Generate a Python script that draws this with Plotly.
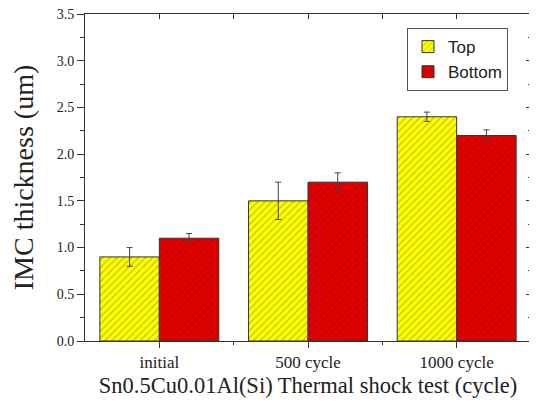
import plotly.graph_objects as go

categories = ["initial", "500 cycle", "1000 cycle"]
top_vals = [0.9, 1.5, 2.4]
top_err = [0.1, 0.2, 0.05]
bottom_vals = [1.1, 1.7, 2.2]
bottom_err = [0.05, 0.1, 0.06]
y_ticks = [0.0, 0.5, 1.0, 1.5, 2.0, 2.5, 3.0, 3.5]

xpos = list(range(len(categories)))

fig = go.Figure()
fig.add_trace(go.Bar(
    x=xpos, y=top_vals, name="Top",
    marker=dict(color="#FFFF00", line=dict(color="#333333", width=1),
                pattern=dict(shape="/", fgcolor="#7a7a00", bgcolor="#FFFF00", size=5, solidity=0.22)),
    error_y=dict(type="data", array=top_err, color="#444444", thickness=1, width=3),
))
fig.add_trace(go.Bar(
    x=xpos, y=bottom_vals, name="Bottom",
    marker=dict(color="#E00000", line=dict(color="#333333", width=1),
                pattern=dict(shape="/", fgcolor="#A80000", bgcolor="#E00000", size=5, solidity=0.22)),
    error_y=dict(type="data", array=bottom_err, color="#444444", thickness=1, width=3),
))
# empty trace to activate the mirrored (top/right) axes with inward ticks
fig.add_trace(go.Scatter(x=[], y=[], xaxis="x2", yaxis="y2", showlegend=False, hoverinfo="skip"))

fig.update_layout(
    width=529, height=397,
    margin=dict(l=77, r=6, t=6, b=64),
    paper_bgcolor="white", plot_bgcolor="white",
    barmode="group", bargap=0.2, bargroupgap=0,
    font=dict(family="Liberation Serif", color="#222222"),
    legend=dict(x=0.722, y=0.957, xanchor="left", yanchor="top",
                bgcolor="white", bordercolor="#555555", borderwidth=1,
                font=dict(family="Liberation Sans", size=17, color="#222222"),
                tracegroupgap=0),
    showlegend=True,
    xaxis=dict(
        range=[-0.5, 2.5], tickvals=xpos, ticktext=categories,
        showline=True, linecolor="#333333", linewidth=1, mirror=True,
        ticks="outside", ticklen=6, tickcolor="#333333",
        minor=dict(tickvals=[0.5, 1.5], ticks="outside", ticklen=3, tickcolor="#333333"),
        tickfont=dict(family="Liberation Serif", size=17),
        ticklabeloverflow="allow",
        title=dict(text="Sn0.5Cu0.01Al(Si) Thermal shock test (cycle)",
                   font=dict(family="Liberation Serif", size=22.5), standoff=5),
        showgrid=False, zeroline=False, automargin=False,
    ),
    yaxis=dict(
        range=[0, 3.5], tickvals=y_ticks, ticktext=[f"{v:.1f}" for v in y_ticks],
        showline=True, linecolor="#333333", linewidth=1, mirror=True,
        ticks="outside", ticklen=7, tickcolor="#333333",
        minor=dict(ticks="outside", ticklen=4, tickcolor="#333333", dtick=0.25),
        tickfont=dict(family="Liberation Serif", size=14),
        ticklabeloverflow="allow",
        title=dict(text="IMC thickness (um)", font=dict(family="Liberation Serif", size=28), standoff=18),
        showgrid=False, zeroline=False, automargin=False,
    ),
    xaxis2=dict(
        overlaying="x", side="top", anchor="y", range=[-0.5, 2.5],
        tickvals=[0, 0.5, 1, 1.5, 2], showticklabels=False,
        ticks="inside", ticklen=5, tickcolor="#333333",
        showline=False, showgrid=False, zeroline=False, automargin=False,
    ),
    yaxis2=dict(
        overlaying="y", side="right", anchor="x", range=[0, 3.5],
        tickvals=y_ticks, showticklabels=False,
        ticks="inside", ticklen=5, tickcolor="#333333",
        minor=dict(ticks="inside", ticklen=3, tickcolor="#333333", dtick=0.25),
        showline=False, showgrid=False, zeroline=False, automargin=False,
    ),
)

fig.write_html("out.html")
